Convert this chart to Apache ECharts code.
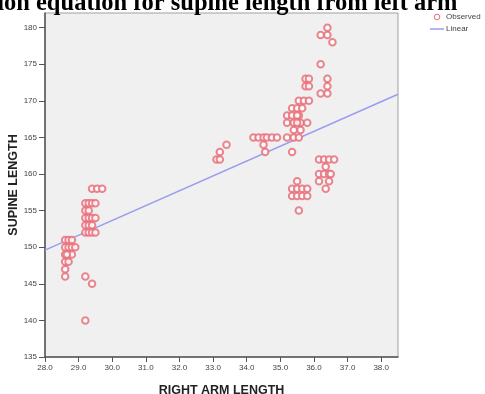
<!DOCTYPE html>
<html>
<head>
<meta charset="utf-8">
<script src="https://cdn.jsdelivr.net/npm/echarts@6/dist/echarts.min.js"></script>
<style>
html,body{margin:0;padding:0;background:#fff;}
#chart{width:485px;height:394px;}
</style>
</head>
<body>
<div id="chart"></div>
<script>
// Observed data: right arm length (x) and supine length (y)
var armLength = [
  28.6,28.6,28.6,28.6,28.6,28.6,28.7,28.7,28.7,28.7,28.8,28.8,28.8,28.9,28.65,
  29.2,29.2,29.2,29.2,29.2,29.3,29.3,29.3,29.3,29.3,29.4,29.4,29.4,29.4,29.5,29.5,29.5,
  29.4,29.55,29.7,29.2,29.4,29.2,
  33.1,33.2,33.2,33.4,
  34.2,34.35,34.5,34.6,34.75,34.9,34.5,34.55,
  35.55,35.7,35.85,35.35,35.5,35.65,35.2,35.35,35.55,35.2,35.4,35.6,35.8,35.5,35.4,35.6,35.5,35.2,35.4,35.55,35.35,
  35.75,35.75,35.85,35.85,
  35.5,35.35,35.5,35.65,35.8,35.35,35.5,35.65,35.8,35.55,
  36.15,36.3,36.45,36.6,36.35,36.15,36.3,36.45,36.5,36.15,36.45,36.35,
  36.4,36.2,36.4,36.55,36.2,36.4,36.4,36.4,36.2
];
var supineLength = [
  146,147,148,149,150,151,148,149,150,151,149,150,151,150,149,
  152,153,154,155,156,152,153,154,155,156,152,153,154,156,152,154,156,
  158,158,158,146,145,140,
  162,162,163,164,
  165,165,165,165,165,165,164,163,
  170,170,170,169,169,169,168,168,168,167,167,167,167,168,166,166,167,165,165,165,163,
  173,172,173,172,
  159,158,158,158,158,157,157,157,157,155,
  162,162,162,162,161,160,160,160,160,159,159,158,
  180,179,179,178,175,173,172,171,171
];
// Linear fit end points
var fitX = [28.0, 38.5];
var fitY = [149.6, 170.9];
var xTicks = {min: 28, max: 38.5, interval: 1};
var yTicks = {min: 135, max: 182, interval: 5};
var titleText = 'Regression equation for supine length from left arm';
var xAxisTitle = 'RIGHT ARM LENGTH';
var yAxisTitle = 'SUPINE LENGTH';
var legendNames = ['Observed', 'Linear'];

var observed = armLength.map(function (x, i) { return [x, supineLength[i]]; });
var fitted = fitX.map(function (x, i) { return [x, fitY[i]]; });

var pointColor = '#e8707a';
var lineColor = '#9a9cf0';

var chart = echarts.init(document.getElementById('chart'), null, {renderer: 'canvas'});
chart.setOption({
  animation: false,
  backgroundColor: '#ffffff',
  textStyle: {fontFamily: 'Liberation Sans, Arial, sans-serif'},
  graphic: [
    {
      type: 'text',
      left: -84,
      top: -9,
      style: {
        text: titleText,
        font: 'bold 24.5px "Liberation Serif", "Times New Roman", serif',
        fill: '#000'
      }
    },
    {
      type: 'text',
      x: 14, y: 185,
      rotation: Math.PI / 2,
      style: {
        text: yAxisTitle,
        font: 'bold 12.5px "Liberation Sans", Arial, sans-serif',
        fill: '#222',
        align: 'center',
        verticalAlign: 'middle'
      }
    },
    {
      type: 'circle',
      shape: {cx: 437, cy: 17, r: 2.8},
      style: {fill: 'none', stroke: pointColor, lineWidth: 1}
    },
    {
      type: 'text',
      x: 446, y: 17,
      style: {text: legendNames[0], font: '8px "Liberation Sans", Arial, sans-serif', fill: '#444', verticalAlign: 'middle'}
    },
    {
      type: 'line',
      shape: {x1: 430, y1: 29, x2: 444, y2: 29},
      style: {stroke: lineColor, lineWidth: 1.5}
    },
    {
      type: 'text',
      x: 446, y: 29,
      style: {text: legendNames[1], font: '8px "Liberation Sans", Arial, sans-serif', fill: '#444', verticalAlign: 'middle'}
    }
  ],
  grid: {
    left: 45, right: 87, top: 13, bottom: 37,
    containLabel: false,
    outerBoundsMode: 'none',
    show: true,
    backgroundColor: '#f0f0f0',
    borderColor: '#a0a0a0',
    borderWidth: 1
  },
  xAxis: {
    type: 'value',
    min: xTicks.min, max: xTicks.max, interval: xTicks.interval,
    name: xAxisTitle,
    nameLocation: 'middle',
    nameGap: 27,
    nameTextStyle: {fontSize: 12.5, fontWeight: 'bold', color: '#222'},
    axisLine: {show: true, lineStyle: {color: '#555', width: 1.5}},
    axisTick: {show: true, length: 5, lineStyle: {color: '#555'}},
    axisLabel: {fontSize: 8, color: '#444', margin: 7, showMaxLabel: false,
      formatter: function (v) { return v.toFixed(1); }},
    splitLine: {show: false}
  },
  yAxis: {
    type: 'value',
    min: yTicks.min, max: yTicks.max, interval: yTicks.interval,
    axisLine: {show: true, lineStyle: {color: '#555', width: 1.5}},
    axisTick: {show: true, length: 6, lineStyle: {color: '#555'}},
    axisLabel: {fontSize: 8, color: '#444', margin: 8, showMaxLabel: false},
    splitLine: {show: false}
  },
  series: [
    {
      name: legendNames[0],
      type: 'scatter',
      symbol: 'emptyCircle',
      symbolSize: 6.5,
      data: observed,
      itemStyle: {color: pointColor, borderWidth: 1, opacity: 0.85},
      z: 3
    },
    {
      name: legendNames[1],
      type: 'line',
      data: fitted,
      showSymbol: false,
      symbol: 'none',
      lineStyle: {color: lineColor, width: 1.5},
      itemStyle: {color: lineColor},
      z: 2
    }
  ]
});
</script>
</body>
</html>
